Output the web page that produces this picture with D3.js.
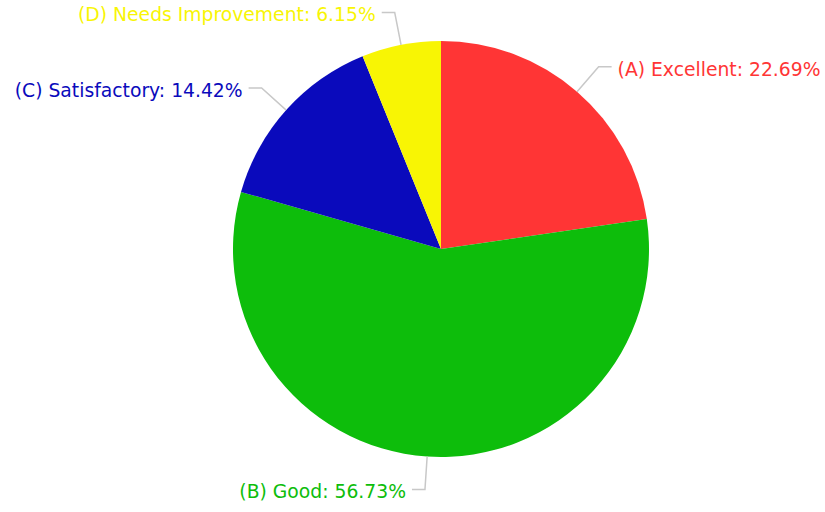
<!DOCTYPE html>
<html>
<head>
<meta charset="utf-8">
<script src="https://cdn.jsdelivr.net/npm/d3@7"></script>
<style>
    html, body { margin: 0; padding: 0; background: #fff; }
    svg { display: block; }
</style>
</head>
<body>
<svg id="chart"></svg>
<script>
const WIDTH = 825;
const HEIGHT = 512;
const CX = 441;
const CY = 249;
const RADIUS = 208;
const ELBOW_RADIUS = 241;
const TAIL = 13;

const categories = ['(A) Excellent', '(B) Good', '(C) Satisfactory', '(D) Needs Improvement'];
const shares = [22.69, 56.73, 14.42, 6.15];
const colors = ['#ff3535', '#0dbd0b', '#0a0abc', '#f8f504'];

const data = categories.map((name, i) => ({ name, value: shares[i], color: colors[i] }));

const svg = d3.select('#chart').attr('width', WIDTH).attr('height', HEIGHT);

const pie = d3.pie()
    .sort(null)
    .value((d) => d.value);

const arc = d3.arc().innerRadius(0).outerRadius(RADIUS);

const g = svg.append('g').attr('transform', `translate(${CX},${CY})`);

const arcs = pie(data);

g.selectAll('path.slice')
    .data(arcs)
    .join('path')
    .attr('class', 'slice')
    .attr('d', arc)
    .attr('fill', (d) => d.data.color);

// point on a circle of radius r at angle a (d3 angles: 0 = 12 o'clock, clockwise)
const polar = (a, r) => [Math.sin(a) * r, -Math.cos(a) * r];

arcs.forEach((d) => {
    const mid = (d.startAngle + d.endAngle) / 2;
    const side = Math.sin(mid) >= 0 ? 1 : -1;
    const p0 = polar(mid, RADIUS);
    const p1 = polar(mid, ELBOW_RADIUS);
    const p2 = [p1[0] + side * TAIL, p1[1]];

    g.append('polyline')
        .attr('points', [p0, p1, p2].map((p) => p.join(',')).join(' '))
        .attr('fill', 'none')
        .attr('stroke', '#c8c8c8')
        .attr('stroke-width', 1.5);

    g.append('text')
        .attr('x', p2[0] + side * 6)
        .attr('y', p2[1])
        .attr('dy', '0.47em')
        .attr('text-anchor', side > 0 ? 'start' : 'end')
        .attr('font-family', 'Verdana, "DejaVu Sans", sans-serif')
        .attr('font-size', 18.75)
        .attr('fill', d.data.color)
        .text(`${d.data.name}: ${d.data.value.toFixed(2)}%`);
});
</script>
</body>
</html>
